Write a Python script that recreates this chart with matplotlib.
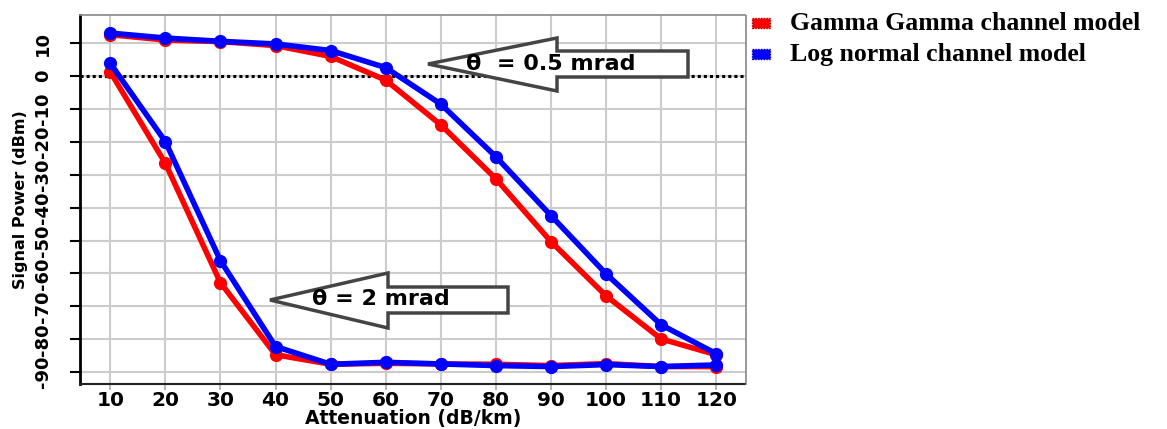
import matplotlib
matplotlib.use("Agg")
import matplotlib.pyplot as plt
from matplotlib.patches import Polygon, Rectangle

plt.rcParams["axes.unicode_minus"] = False

attenuation = [10, 20, 30, 40, 50, 60, 70, 80, 90, 100, 110, 120]

# theta = 0.5 mrad
gamma_05 = [12.6, 11.0, 10.5, 9.3, 6.0, -1.2, -14.8, -31.2, -50.3, -66.8, -79.9, -84.7]
lognorm_05 = [13.1, 11.6, 10.6, 9.8, 7.8, 2.6, -8.5, -24.5, -42.4, -60.1, -75.6, -84.4]

# theta = 2 mrad
gamma_2 = [1.3, -26.5, -62.8, -84.7, -87.6, -87.3, -87.5, -87.6, -88.0, -87.4, -88.3, -88.3]
lognorm_2 = [3.9, -19.9, -56.1, -82.2, -87.6, -87.0, -87.5, -88.0, -88.3, -87.7, -88.3, -87.8]

y_ticks = [-90, -80, -70, -60, -50, -40, -30, -20, -10, 0, 10]

series_labels = ["Gamma Gamma channel model", "Log normal channel model"]
series_colors = ["#ff0000", "#0000ff"]
series_edges = ["#990000", "#000099"]
annot_05 = "\u03b8  = 0.5 mrad"
annot_2 = "\u03b8 = 2 mrad"

W, H = 1167, 429
fig = plt.figure(figsize=(W / 100, H / 100), dpi=100)
ax = fig.add_axes([80 / W, 1 - 384 / H, (746 - 80) / W, (384 - 15) / H])

ax.set_xlim(4.5, 125.4)
ax.set_ylim(-93.6, 18.6)

ax.set_xticks(attenuation)
ax.set_xticklabels([str(v) for v in attenuation], fontsize=14.5, fontweight="bold")
ax.set_yticks(y_ticks)
ax.set_yticklabels([str(v) for v in y_ticks], fontsize=13, fontweight="bold",
                   rotation=90, va="center")
ax.tick_params(axis="x", length=4, width=1.2, color="#aaaaaa", pad=1)
ax.tick_params(axis="y", length=7, width=1.5, direction="out", pad=13)

ax.grid(True, color="#cccccc", linewidth=1.5, zorder=0)
ax.set_axisbelow(True)

for name in ("top", "right"):
    ax.spines[name].set_linestyle((0, (1, 1)))
    ax.spines[name].set_color("#888888")
    ax.spines[name].set_linewidth(1.2)
ax.spines["bottom"].set_linestyle((0, (1, 1)))
ax.spines["bottom"].set_color("#222222")
ax.spines["bottom"].set_linewidth(1.5)
ax.spines["left"].set_color("black")
ax.spines["left"].set_linewidth(2)


def fig_xy(x, y):
    return x / W, 1 - y / H


# block arrows carrying the divergence-angle labels (figure pixel coords)
def block_arrow(tip_x, tip_y, base_x, end_x, head_top, body_top, body_bot, head_bot):
    pts = [(tip_x, tip_y), (base_x, head_top), (base_x, body_top), (end_x, body_top),
           (end_x, body_bot), (base_x, body_bot), (base_x, head_bot)]
    poly = Polygon([fig_xy(x, y) for x, y in pts], closed=True,
                   transform=fig.transFigure, facecolor="white",
                   edgecolor="#444444", linewidth=2.5, zorder=3)
    fig.add_artist(poly)


block_arrow(428, 64, 557, 688, 38, 51, 77, 91)
block_arrow(270, 300, 388, 508, 273, 287, 313, 328)

fig.text(*fig_xy(551, 64), annot_05, fontsize=16, fontweight="bold",
         ha="center", va="center", zorder=4)
fig.text(*fig_xy(381, 299), annot_2, fontsize=16, fontweight="bold",
         ha="center", va="center", zorder=4)

# zero reference line
ax.axhline(0, color="black", linewidth=2.2, linestyle=(0, (1, 1)), zorder=5)

for g, l in ((gamma_05, lognorm_05), (gamma_2, lognorm_2)):
    ax.plot(attenuation, g, color=series_colors[0], linewidth=4, marker="o",
            markersize=8.5, zorder=6, clip_on=False)
    ax.plot(attenuation, l, color=series_colors[1], linewidth=4, marker="o",
            markersize=8.5, zorder=7, clip_on=False)

ax.set_xlabel("Attenuation (dB/km)", fontsize=13.5, fontweight="bold")
ax.xaxis.set_label_coords(0.5, -(428 - 384) / (384 - 15))
ax.xaxis.label.set_va("bottom")
ax.set_ylabel("Signal Power (dBm)", fontsize=11.5, fontweight="bold")
ax.yaxis.set_label_coords(-(80 - 20) / (746 - 80), 0.5)
ax.yaxis.label.set_va("center")

# legend: colour swatches with serif labels
for i, (lab, col, edge) in enumerate(zip(series_labels, series_colors, series_edges)):
    y_c = 23 + 31 * i
    x0, y0 = fig_xy(752, y_c + 5)
    sw = Rectangle((x0, y0), 18 / W, 10 / H, transform=fig.transFigure,
                   facecolor=col, edgecolor=edge, linewidth=1, linestyle=(0, (1, 1)))
    fig.add_artist(sw)
    fig.text(*fig_xy(790, y_c), lab, family="Liberation Serif", fontweight="bold",
             fontsize=18.5, ha="left", va="center")

fig.savefig("out.png", dpi=100)
